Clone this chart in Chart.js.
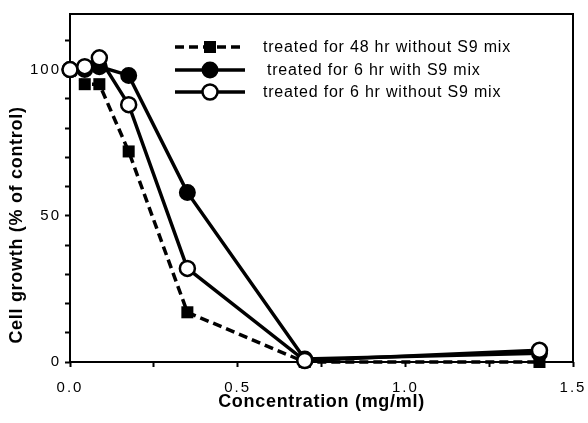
<!DOCTYPE html>
<html><head><meta charset="utf-8">
<script src="https://cdn.jsdelivr.net/npm/chart.js@4/dist/chart.umd.min.js"></script>
<style>html,body{margin:0;padding:0;background:#fff}#wrap{width:588px;height:423px}</style>
</head><body><div id="wrap"><canvas id="c" width="588" height="423"></canvas></div>
<script>
const concentrations = [0, 0.044, 0.0875, 0.175, 0.35, 0.7, 1.4];
const treated48NoS9 = [100, 95, 95, 72, 17, 0, 0];
const treated6WithS9 = [100, 100, 101, 98, 58, 1, 3];
const treated6NoS9 = [100, 101, 104, 88, 32, 0.5, 4];
const seriesLabels = ['treated for 48 hr without S9 mix','treated for 6 hr with S9 mix','treated for 6 hr without S9 mix'];
const xTickLabels = ['0.0','0.5','1.0','1.5'];
const yTickLabels = ['0','50','100'];

function pts(ys){return concentrations.map((x,i)=>({x:x,y:ys[i]}));}
const FONT = "'Liberation Sans', Arial, Helvetica, sans-serif";

const frame = {
  id:'frame',
  beforeDatasetsDraw(chart){
    const a=chart.chartArea, ctx=chart.ctx;
    ctx.save(); ctx.strokeStyle='#000'; ctx.lineWidth=2;
    ctx.strokeRect(a.left,a.top,a.right-a.left,a.bottom-a.top);
    ctx.restore();
  }
};
// letter spacing for tick labels and titles, and shift of the y title
const spacing = {
  id:'spacing',
  afterUpdate(chart){
    Object.values(chart.scales).forEach(s=>{
      if(s._wrapped) return; s._wrapped=true;
      const dl=s.drawLabels, dt=s.drawTitle;
      s.drawLabels=function(a){const c=this.ctx;c.save();c.letterSpacing='2px';dl.call(this,a);c.restore();};
      s.drawTitle=function(){const c=this.ctx;c.save();c.letterSpacing='0.7px';
        if(this.axis==='y')c.translate(0,37);
        dt.call(this);c.restore();};
    });
  }
};
const legendPlug = {
  id:'customLegend',
  afterDraw(chart){
    const ctx=chart.ctx, a=chart.chartArea;
    const x0=a.left+105, x1=a.left+175, tx=a.left+193;
    const rows=[a.top+33, a.top+56, a.top+78];
    const offs=[0,4,0];
    const ds=chart.data.datasets;
    ctx.save();
    rows.forEach((y,i)=>{
      const d=ds[i];
      ctx.strokeStyle='#000'; ctx.lineWidth=3.5;
      ctx.setLineDash(d.borderDash||[]);
      ctx.beginPath(); ctx.moveTo(x0,y); ctx.lineTo(x1,y); ctx.stroke();
      ctx.setLineDash([]);
      const cx=(x0+x1)/2;
      if(d.pointStyle==='rect'){ctx.fillStyle='#000';ctx.fillRect(cx-6,y-6,12,12);}
      else{ctx.beginPath();ctx.arc(cx,y,d.pointRadius,0,Math.PI*2);ctx.fillStyle=d.pointBackgroundColor;ctx.fill();ctx.lineWidth=d.pointBorderWidth;ctx.stroke();}
      ctx.fillStyle='#000'; ctx.font="16px "+FONT; ctx.letterSpacing='0.8px'; ctx.textBaseline='middle'; ctx.textAlign='left';
      ctx.fillText(seriesLabels[i], tx+offs[i], y+1);
    });
    ctx.restore();
  }
};

new Chart(document.getElementById('c'),{
  type:'line',
  data:{datasets:[
    {label:seriesLabels[0],data:pts(treated48NoS9),borderColor:'#000',borderWidth:3.5,borderDash:[9,5],pointStyle:'rect',pointRadius:8.5,pointBackgroundColor:'#000',pointBorderColor:'#000',pointBorderWidth:0,order:2,clip:false},
    {label:seriesLabels[1],data:pts(treated6WithS9),borderColor:'#000',borderWidth:3.5,pointStyle:'circle',pointRadius:7.5,pointBackgroundColor:'#000',pointBorderColor:'#000',pointBorderWidth:2,order:1,clip:false},
    {label:seriesLabels[2],data:pts(treated6NoS9),borderColor:'#000',borderWidth:3.5,pointStyle:'circle',pointRadius:7.5,pointBackgroundColor:'#fff',pointBorderColor:'#000',pointBorderWidth:2.5,order:0,clip:false}
  ]},
  options:{
    responsive:false,animation:false,
    layout:{padding:{top:14,right:15,left:0,bottom:0}},
    plugins:{legend:{display:false},tooltip:{enabled:false}},
    scales:{
      x:{type:'linear',min:0,max:1.5,
        afterBuildTicks(s){s.ticks=[0,0.25,0.5,0.75,1,1.25,1.5].map(v=>({value:v}));},
        afterFit(s){s.height=61;s.paddingLeft=0;s.paddingRight=0;},
        grid:{drawOnChartArea:false,drawTicks:true,tickLength:5,tickColor:'#000',tickWidth:2},
        border:{display:false},
        ticks:{color:'#000',font:{size:15,family:FONT},padding:12,maxRotation:0,
          callback:(v)=>{const i=[0,0.5,1,1.5].indexOf(v);return i>=0?xTickLabels[i]:'';}},
        title:{display:true,text:'Concentration (mg/ml)',color:'#000',font:{size:18,weight:'bold',family:FONT},padding:{top:0,bottom:10}}
      },
      y:{type:'linear',min:0,max:119,
        afterBuildTicks(s){const t=[];for(let v=0;v<=110;v+=10)t.push({value:v});s.ticks=t;},
        afterFit(s){s.width=70;s.paddingTop=0;s.paddingBottom=0;},
        grid:{drawOnChartArea:false,drawTicks:true,tickLength:5,tickColor:'#000',tickWidth:2},
        border:{display:false},
        ticks:{color:'#000',font:{size:15,family:FONT},padding:4,
          callback:(v)=>{const i=[0,50,100].indexOf(v);return i>=0?yTickLabels[i]:'';}},
        title:{display:true,text:'Cell growth (% of control)',color:'#000',font:{size:18,weight:'bold',family:FONT},padding:{top:6,bottom:0}}
      }
    }
  },
  plugins:[frame,spacing,legendPlug]
});
</script></body></html>
